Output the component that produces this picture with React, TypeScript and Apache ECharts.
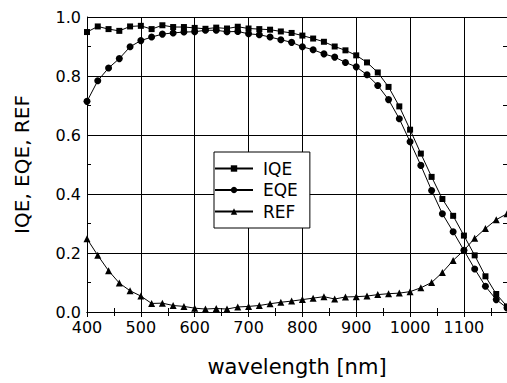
import React, { useEffect, useRef } from "react";
import * as echarts from "echarts";

const wavelengths = [
  400, 420, 440, 460, 480, 500, 520, 540, 560, 580, 600, 620, 640, 660, 680, 700, 720, 740, 760, 780,
  800, 820, 840, 860, 880, 900, 920, 940, 960, 980, 1000, 1020, 1040, 1060, 1080, 1100, 1120, 1140, 1160, 1180,
];

const iqe = [
  0.949, 0.968, 0.959, 0.953, 0.968, 0.97, 0.959, 0.972, 0.966, 0.966, 0.963, 0.96, 0.964, 0.961, 0.967, 0.961,
  0.959, 0.957, 0.951, 0.946, 0.937, 0.927, 0.916, 0.9, 0.887, 0.87, 0.846, 0.812, 0.763, 0.697, 0.618, 0.537,
  0.458, 0.383, 0.326, 0.259, 0.192, 0.121, 0.061, 0.019,
];

const eqe = [
  0.714, 0.784, 0.827, 0.859, 0.899, 0.92, 0.932, 0.942, 0.946, 0.949, 0.95, 0.955, 0.955, 0.95, 0.951, 0.943,
  0.94, 0.932, 0.923, 0.914, 0.899, 0.889, 0.875, 0.864, 0.846, 0.831, 0.804, 0.768, 0.72, 0.655, 0.577, 0.497,
  0.412, 0.333, 0.272, 0.209, 0.146, 0.087, 0.042, 0.014,
];

const ref = [
  0.248, 0.192, 0.14, 0.098, 0.072, 0.054, 0.029, 0.03, 0.022, 0.019, 0.013, 0.01, 0.012, 0.01, 0.017, 0.019,
  0.022, 0.028, 0.033, 0.037, 0.042, 0.047, 0.052, 0.044, 0.051, 0.052, 0.054, 0.059, 0.062, 0.064, 0.069, 0.082,
  0.1, 0.134, 0.175, 0.209, 0.25, 0.283, 0.313, 0.333,
];

const FONT = "DejaVu Sans";

export default function App() {
  const ref1 = useRef<HTMLDivElement>(null);

  useEffect(() => {
    if (!ref1.current) return;
    const chart = echarts.init(ref1.current, null, { renderer: "svg" });
    const mk = (arr: number[]) => wavelengths.map((w, i) => [w, arr[i]]);
    const axisCommon = {
      axisLine: { show: true, lineStyle: { color: "#000", width: 1 } },
      axisTick: { show: true, inside: true, length: 5, lineStyle: { color: "#000" } },
      minorTick: { show: true, splitNumber: 2, length: 4, lineStyle: { color: "#000" } },
    };
    chart.setOption({
      animation: false,
      backgroundColor: "#fff",
      grid: { left: 87, right: 0, top: 17, bottom: 71, containLabel: false },
      legend: {
        left: 214,
        top: 152,
        orient: "vertical",
        backgroundColor: "#fff",
        borderColor: "#000",
        borderWidth: 1,
        borderRadius: 0,
        padding: [8, 12, 8, 0],
        itemWidth: 38,
        itemHeight: 8,
        itemGap: 4.5,
        textStyle: { fontFamily: FONT, fontSize: 17, color: "#000", padding: [0, 0, 0, 5] },
        data: ["IQE", "EQE", "REF"],
      },
      xAxis: [
        {
          type: "value",
          min: 400,
          max: 1180,
          interval: 100,
          name: "wavelength [nm]",
          nameLocation: "middle",
          nameGap: 44,
          nameTextStyle: { fontFamily: FONT, fontSize: 21, color: "#000" },
          ...axisCommon,
          axisLabel: {
            fontFamily: FONT,
            fontSize: 16,
            color: "#000",
            margin: 7,
            showMaxLabel: false,
            formatter: (v: number) => String(v),
          },
          splitLine: { show: true, lineStyle: { color: "#000", width: 1 } },
        },
        {
          type: "value",
          position: "top",
          min: 400,
          max: 1180,
          interval: 100,
          ...axisCommon,
          axisLabel: { show: false },
          splitLine: { show: false },
        },
      ],
      yAxis: [
        {
          type: "value",
          min: 0,
          max: 1,
          interval: 0.2,
          name: "IQE, EQE, REF",
          nameLocation: "middle",
          nameGap: 55,
          nameTextStyle: { fontFamily: FONT, fontSize: 20, color: "#000" },
          ...axisCommon,
          axisLabel: {
            fontFamily: FONT,
            fontSize: 16,
            color: "#000",
            margin: 6,
            formatter: (v: number) => v.toFixed(1),
          },
          splitLine: { show: true, lineStyle: { color: "#000", width: 1 } },
        },
        {
          type: "value",
          position: "right",
          min: 0,
          max: 1,
          interval: 0.2,
          ...axisCommon,
          axisLabel: { show: false },
          splitLine: { show: false },
        },
      ],
      series: [
        {
          name: "IQE",
          type: "line",
          data: mk(iqe),
          symbol: "rect",
          symbolSize: 6,
          showAllSymbol: true,
          lineStyle: { color: "#000", width: 1 },
          itemStyle: { color: "#000" },
        },
        {
          name: "EQE",
          type: "line",
          data: mk(eqe),
          symbol: "circle",
          symbolSize: 7,
          showAllSymbol: true,
          lineStyle: { color: "#000", width: 1 },
          itemStyle: { color: "#000" },
        },
        {
          name: "REF",
          type: "line",
          data: mk(ref),
          symbol: "triangle",
          symbolSize: 7,
          showAllSymbol: true,
          lineStyle: { color: "#000", width: 1 },
          itemStyle: { color: "#000" },
        },
      ],
    });
    return () => chart.dispose();
  }, []);

  return (
    <div
      ref={ref1}
      style={{ position: "absolute", left: 0, top: 0, width: 507, height: 383, background: "#fff" }}
    />
  );
}
